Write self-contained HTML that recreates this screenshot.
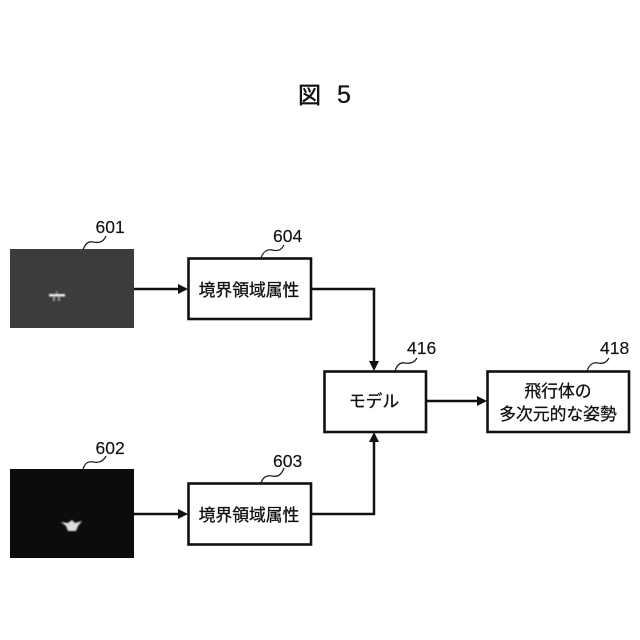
<!DOCTYPE html>
<html lang="ja">
<head>
<meta charset="utf-8">
<style>
html,body{margin:0;padding:0;background:#fff;}
svg{display:block;}
text{fill:#111;}
.n{font-family:"Liberation Sans",sans-serif;font-size:17.500px;stroke:#111;stroke-width:.15;}
.j{font-family:"Liberation Sans","Noto Sans CJK JP",sans-serif;font-size:16.8px;text-anchor:middle;stroke:#111;stroke-width:.3;}
</style>
</head>
<body>
<svg width="640" height="640" viewBox="0 0 640 640" xmlns="http://www.w3.org/2000/svg">
<defs>
<filter id="b" x="-50%" y="-50%" width="200%" height="200%"><feGaussianBlur stdDeviation="0.9"/></filter>
</defs>
<text x="298" y="103" style="font-family:'Liberation Sans','Noto Sans CJK JP',sans-serif;font-size:23px;stroke:#111;stroke-width:.5">図</text>
<text x="337" y="103" style="font-family:'Liberation Sans',sans-serif;font-size:25px;stroke:#111;stroke-width:.3">5</text>

<rect x="10" y="249" width="124" height="79" fill="#3c3c3c"/>
<g filter="url(#b)" fill="#eee">
<rect x="49" y="294" width="16" height="2.500"/>
<rect x="53" y="296" width="2" height="5" fill="#999"/>
<rect x="58" y="296" width="2" height="5" fill="#999"/>
<rect x="56" y="291" width="1.500" height="3" fill="#888"/>
</g>
<rect x="10" y="469" width="124" height="89" fill="#0c0c0c"/>
<g filter="url(#b)">
<path d="M61 522 L68 523 L72 520 L75 523 L82 521 L78 526 L76 531 L68 531 L66 526 Z" fill="#ddd"/>
</g>

<g fill="#fff" stroke="#111" stroke-width="2.600">
<rect x="188.500" y="258.500" width="122.500" height="60.500"/>
<rect x="188.500" y="483.500" width="122.500" height="61"/>
<rect x="324.500" y="371.500" width="101.500" height="60.500"/>
<rect x="487.500" y="371.500" width="141.500" height="60.500"/>
</g>

<g fill="none" stroke="#111" stroke-width="2.500">
<path d="M134 289H181"/>
<path d="M134 514H181"/>
<path d="M311 289H374V364"/>
<path d="M311 514H374V439"/>
<path d="M426 401H480"/>
</g>
<g fill="#111">
<path d="M188 289L178 284V294Z"/>
<path d="M188 514L178 509V519Z"/>
<path d="M374 371L369 361H379Z"/>
<path d="M374 432L369 442H379Z"/>
<path d="M487 401L477 396V406Z"/>
</g>

<g fill="none" stroke="#222" stroke-width="1.300">
<path d="M83 250C85 244 88 241 93 242C98 243 103 243 106 236"/>
<path d="M83 469C85 463 88 461 93 462C98 463 103 462 106 456"/>
<path d="M261 258C263 252 267 249 272 250C277 251 281 251 284 245"/>
<path d="M261 483C263 477 267 475 272 476C277 477 281 476 284 468"/>
<path d="M395 371C397 365 400 362 405 363C410 364 414 363 417 358"/>
<path d="M587 371C589 365 593 362 598 363C603 364 606 363 609 358"/>
</g>

<text class="n" x="95.500" y="233">601</text>
<text class="n" x="95.500" y="454">602</text>
<text class="n" x="273" y="242">604</text>
<text class="n" x="273" y="467">603</text>
<text class="n" x="407" y="354">416</text>
<text class="n" x="600" y="354">418</text>

<text class="j" x="249" y="296">境界領域属性</text>
<text class="j" x="249" y="521">境界領域属性</text>
<text class="j" x="374" y="407">モデル</text>
<text class="j" x="558" y="397">飛行体の</text>
<text class="j" x="558" y="420">多次元的な姿勢</text>
</svg>
</body>
</html>
